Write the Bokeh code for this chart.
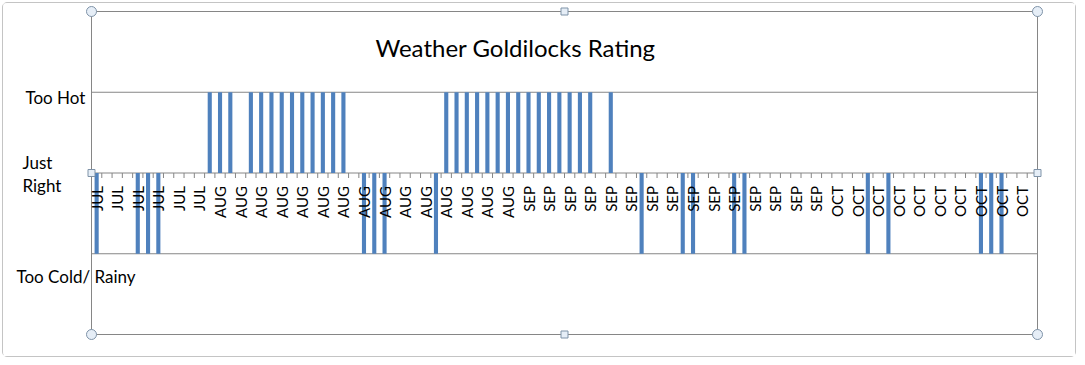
import math
from bokeh.plotting import figure
from bokeh.models import Label, BoxAnnotation
from bokeh.core.properties import value
from bokeh.embed import file_html
from bokeh.resources import INLINE

# ---------------- data ----------------
TITLE = "Weather Goldilocks Rating"
months = ["JUL", "AUG", "SEP", "OCT"]
month_days = [11, 31, 30, 20]
level_names = ["Too Hot", "Just", "Right", "Too Cold/ Rainy"]
# 1 = too hot, 0 = just right, -1 = too cold / rainy (one value per day)
ratings = [
    -1, 0, 0, 0, -1, -1, -1, 0, 0, 0,
    0, 1, 1, 1, 0, 1, 1, 1, 1, 1,
    1, 1, 1, 1, 1, 0, -1, -1, -1, 0,
    0, 0, 0, -1, 1, 1, 1, 1, 1, 1,
    1, 1, 1, 1, 1, 1, 1, 1, 1, 0,
    1, 0, 0, -1, 0, 0, 0, -1, -1, 0,
    0, 0, -1, -1, 0, 0, 0, 0, 0, 0,
    0, 0, 0, 0, 0, -1, 0, -1, 0, 0,
    0, 0, 0, 0, 0, 0, -1, -1, -1, 0,
    0, 0,
]

day_month = []
for m, n in zip(months, month_days):
    day_month += [m] * n
idx = list(range(len(ratings)))
label_idx = idx[::2]
label_txt = [day_month[i] for i in label_idx]

# ---------------- geometry ----------------
OFF = 3                      # margin + border of the figure box
W, H = 1074, 355
PA_L, PA_R, PA_T, PA_B = 91, 1037, 11, 334   # plot-area box on the page
XA, XB = -0.5, len(ratings) - 0.5            # category extent
YA, YB = -2, 2                               # value extent


def sx(px):  # page px -> data x
    return XA + (px - PA_L) / (PA_R - PA_L) * (XB - XA)


def sy(py):  # page px -> data y
    return YB - (py - PA_T) / (PA_B - PA_T) * (YB - YA)


p = figure(width=W, height=H,
           x_range=(sx(OFF), sx(OFF + W)), y_range=(sy(OFF + H), sy(OFF)),
           x_axis_type=None, y_axis_type=None,
           output_backend="svg", toolbar_location=None,
           min_border_left=0, min_border_right=0,
           min_border_top=0, min_border_bottom=0)
p.styles = {"margin": "2px", "border": "1px solid #c4c4c4", "border-radius": "5px"}
p.outline_line_color = None
p.background_fill_color = "white"
p.border_fill_color = "white"

GRAY = "#868686"
# plot-area frame
p.add_layout(BoxAnnotation(left=XA, right=XB, bottom=YA, top=YB,
                           fill_color=None, fill_alpha=0,
                           line_color=GRAY, line_alpha=1, line_width=1,
                           level="underlay"))
# horizontal grid lines and value axis line (y = 1, 0, -1)
p.segment(x0=[XA] * 3, x1=[XB] * 3, y0=[1, 0, -1], y1=[1, 0, -1],
          line_color=GRAY, line_width=1, level="underlay")

p.vbar(x=idx, top=ratings, bottom=0, width=0.4,
       fill_color="#4F81BD", line_color=None)

# category axis tick marks (at category boundaries)
tick_len = 5 / (PA_B - PA_T) * (YB - YA)
bounds = [i + 0.5 for i in idx[:-1]]
p.segment(x0=bounds, y0=[0] * len(bounds), x1=bounds, y1=[-tick_len] * len(bounds),
          line_color=GRAY, line_width=1)

# category labels (vertical)
p.text(x=label_idx, y=[0] * len(label_idx), text=label_txt,
       angle=math.pi / 2, text_align="right", text_baseline="middle",
       y_offset=13, text_font=value("Lato"), text_font_size="15px",
       text_color="#000000")

# selection handles of the plot area
p.scatter(x=[XA, XB, XA, XB], y=[YB, YB, YA, YA], marker="circle", size=10,
          fill_color="#e6eef7", line_color="#7f93a8", line_width=1)
p.scatter(x=[(XA + XB) / 2, (XA + XB) / 2, XA, XB], y=[YB, YA, 0, 0],
          marker="square", size=7,
          fill_color="#e6eef7", line_color="#7f93a8", line_width=1)

# level labels
pos = [(25, 97), (22, 162), (22, 185), (16, 276)]
for txt, (px, py) in zip(level_names, pos):
    p.add_layout(Label(x=sx(px), y=sy(py), text=txt, text_align="left",
                       text_baseline="middle", text_font="Lato",
                       text_font_size="17px", text_color="#000000"))

p.add_layout(Label(x=sx(515), y=sy(47), text=TITLE, text_align="center",
                   text_baseline="middle", text_font="Lato",
                   text_font_size="24px", text_color="#000000"))

open("out.html", "w").write(file_html(p, INLINE))
